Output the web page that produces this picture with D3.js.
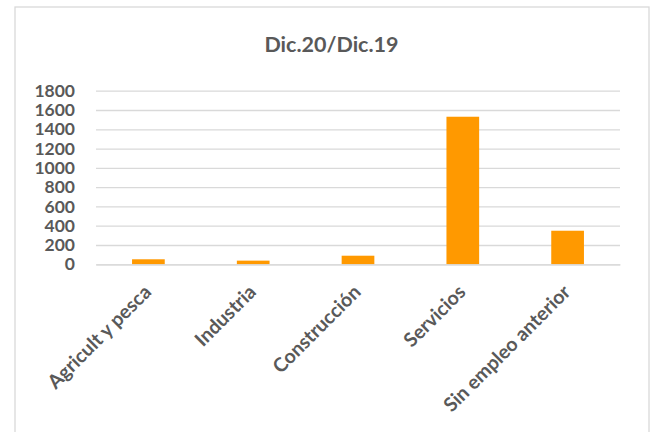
<!DOCTYPE html>
<html><head><meta charset="utf-8">
<script src="https://cdn.jsdelivr.net/npm/d3@7"></script>
<style>body{margin:0;background:#fff}svg{display:block}text{font-family:Lato,"Open Sans",sans-serif;font-weight:700;fill:#595959}</style>
</head><body>
<svg id="c" width="655" height="432"></svg>
<script>
const categories = ["Agricult y pesca","Industria","Construcción","Servicios","Sin empleo anterior"];
const values = [52, 38, 89, 1530, 348];
const yTicks = [0,200,400,600,800,1000,1200,1400,1600,1800];
const title = "Dic.20/Dic.19";

const svg = d3.select("#c");
svg.append("rect").attr("x",15).attr("y",7).attr("width",634).attr("height",440)
  .attr("fill","#fff").attr("stroke","#d9d9d9").attr("stroke-width",1.3);

const m = {left:96, right:620, top:90.7, bottom:264.3};
const x = d3.scaleBand().domain(categories).range([m.left,m.right]).paddingInner(0.688).paddingOuter(0.344);
const y = d3.scaleLinear().domain([0,1800]).range([m.bottom,m.top]);

svg.append("text").attr("x",331.5).attr("y",52).attr("text-anchor","middle")
  .style("font-size","21.5px").text(title);

const ya = svg.append("g").attr("transform",`translate(${m.left},0)`)
  .call(d3.axisLeft(y).tickValues(yTicks).tickSize(-(m.right-m.left)).tickPadding(21).tickFormat(d3.format("d")));
ya.select(".domain").remove();
ya.selectAll(".tick line").attr("stroke","#d9d9d9").attr("stroke-width",1.3);
ya.selectAll(".tick text").style("font-size","17.5px").attr("fill","#595959");

svg.append("g").selectAll("rect").data(categories).join("rect")
  .attr("x",d=>x(d)).attr("width",x.bandwidth())
  .attr("y",(d,i)=>y(values[i])).attr("height",(d,i)=>y(0)-y(values[i]))
  .attr("fill","#ff9900");

const xa = svg.append("g").attr("transform",`translate(0,${m.bottom})`)
  .call(d3.axisBottom(x).tickSize(0).tickPadding(0));
xa.select(".domain").attr("stroke","#d9d9d9").attr("stroke-width",1.3);
xa.selectAll(".tick text").style("font-size","19.5px").attr("fill","#595959")
  .attr("text-anchor","end").attr("dy",0).attr("y",0)
  .attr("transform","translate(4,29) rotate(-45)");
</script>
</body></html>
